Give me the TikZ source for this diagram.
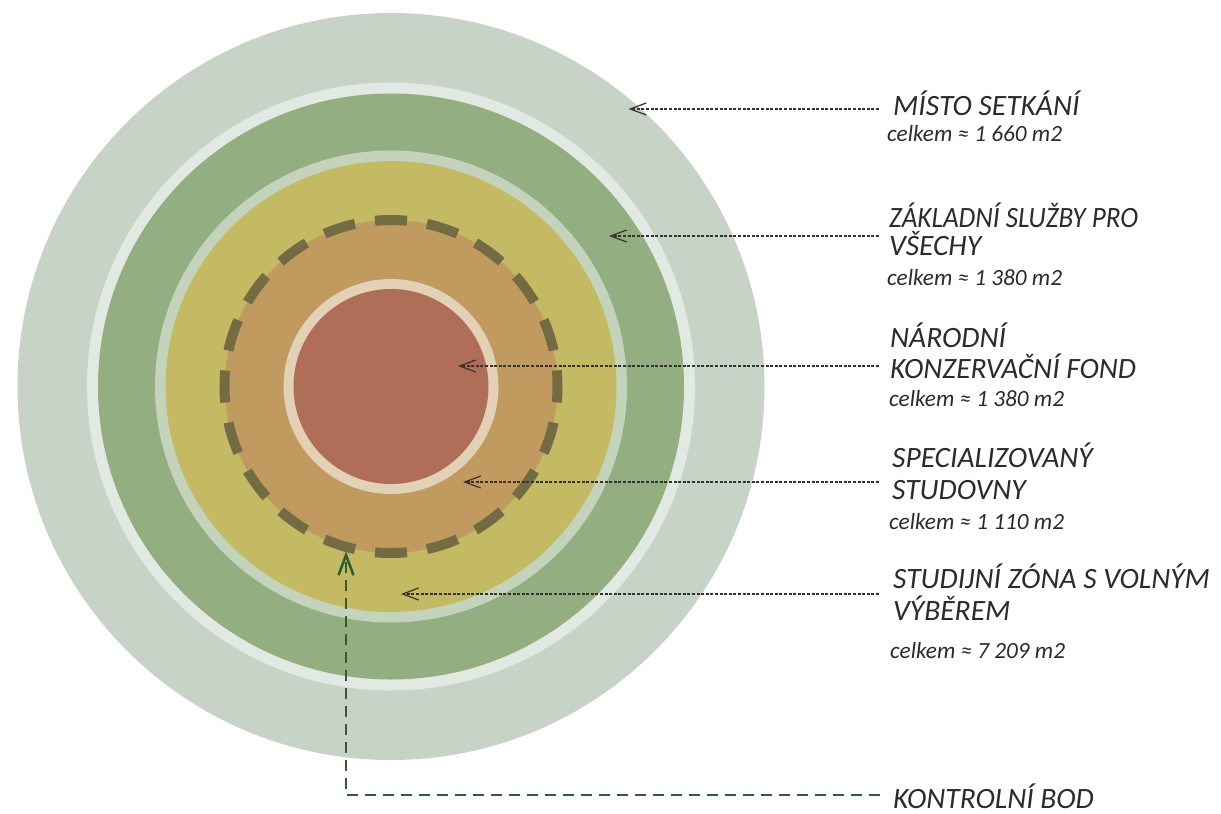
\documentclass[tikz,border=0pt]{standalone}
\usepackage{fontspec}
\setmainfont{Carlito}
\usetikzlibrary{arrows.meta}
\definecolor{cOuter}{HTML}{C8D3C8}
\definecolor{cWhite}{HTML}{E1E9E2}
\definecolor{cGreen}{HTML}{93AE80}
\definecolor{cLight}{HTML}{C4D4BC}
\definecolor{cYellow}{HTML}{C4BA63}
\definecolor{cOrange}{HTML}{C09A5E}
\definecolor{cDash}{HTML}{736C43}
\definecolor{cCream}{HTML}{E3D1B6}
\definecolor{cRed}{HTML}{B06D58}
\definecolor{cText}{HTML}{2B2B2B}
\definecolor{cLeader}{HTML}{333333}
\definecolor{cKB}{HTML}{2F5E35}
\tikzset{
  head/.style={anchor=base west, inner sep=0pt, text=cText, font=\fontsize{29.5}{30}\selectfont\itshape},
  sub/.style={anchor=base west, inner sep=0pt, text=cText, font=\fontsize{23.2}{24}\selectfont\itshape},
  leader/.style={draw=cLeader, line width=1.1pt, dash pattern=on 3pt off 1.6pt,
    -{Straight Barb[length=16pt,width=12pt,line width=1.2pt]}},
  kbline/.style={draw=cKB, line width=2.6pt, dash pattern=on 11pt off 7pt,
    -{Straight Barb[length=20pt,width=15pt,line width=2.6pt]}},
}
\begin{document}
\begin{tikzpicture}[x=1pt,y=-1pt]
\useasboundingbox (0,0) rectangle (1221,814);
\coordinate (c) at (391,386.5);
% rings
\fill[cOuter] (c) circle[radius=373.5];
\fill[cWhite] (c) circle[radius=304];
\fill[cGreen] (c) circle[radius=293];
\fill[cLight] (c) circle[radius=236];
\fill[cYellow] (c) circle[radius=225.5];
\fill[cOrange] (c) circle[radius=166.5];
\draw[cDash, line width=10pt, dash pattern=on 32pt off 20.31pt, dash phase=16pt] (c) circle[radius=166.5];
\fill[cCream] (c) circle[radius=107.5];
\fill[cRed] (c) circle[radius=97.5];
% labels
\node[head] (t1) at (893,115) {MÍSTO SETKÁNÍ};
\node[sub]  (s1) at (887,141) {celkem ≈ 1 660 m2};
\node[head] (t2a) at (889,227) {\scalebox{0.92}[1]{ZÁKLADNÍ SLUŽBY PRO}};
\node[head] (t2b) at (889,255) {VŠECHY};
\node[sub]  (s2) at (887,285) {celkem ≈ 1 380 m2};
\node[head] (t3a) at (890,347) {NÁRODNÍ};
\node[head] (t3b) at (890,378) {KONZERVAČNÍ FOND};
\node[sub]  (s3) at (889,406) {celkem ≈ 1 380 m2};
\node[head] (t4a) at (892,467) {SPECIALIZOVANÝ};
\node[head] (t4b) at (892,499) {STUDOVNY};
\node[sub]  (s4) at (889,529) {celkem ≈ 1 110 m2};
\node[head] (t5a) at (893,588) {STUDIJNÍ ZÓNA S VOLNÝM};
\node[head] (t5b) at (893,620) {VÝBĚREM};
\node[sub]  (s5) at (890,658) {celkem ≈ 7 209 m2};
\node[head] (t6) at (893,808.5) {KONTROLNÍ BOD};
% leader endpoints
\coordinate (l1) at (879,109);  \coordinate (p1) at (628.5,109);
\coordinate (l2) at (879,236);  \coordinate (p2) at (609,236);
\coordinate (l3) at (879,366);  \coordinate (p3) at (458,366);
\coordinate (l4) at (879,482);  \coordinate (p4) at (463,482);
\coordinate (l5) at (879,594);  \coordinate (p5) at (401,594);
\coordinate (l6) at (880,795);  \coordinate (p6) at (346,551.5);
\draw[leader] (l1) -- (p1);
\draw[leader] (l2) -- (p2);
\draw[leader] (l3) -- (p3);
\draw[leader] (l4) -- (p4);
\draw[leader] (l5) -- (p5);
\draw[kbline] (l6) -| (p6);
\end{tikzpicture}
\end{document}
